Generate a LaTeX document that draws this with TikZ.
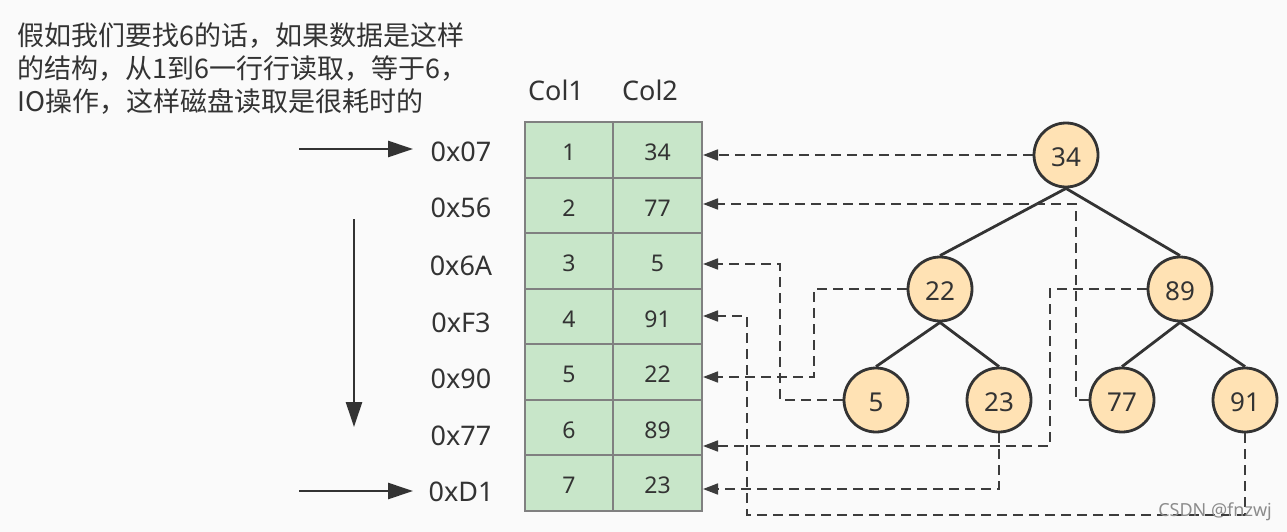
\documentclass[tikz,border=0pt]{standalone}
\usepackage{fontspec}
\setmainfont{Noto Sans}
\newfontfamily\cjk{Noto Sans CJK SC}
\usetikzlibrary{arrows.meta,calc}
\definecolor{bg}{RGB}{250,250,250}
\definecolor{ink}{RGB}{51,51,51}
\definecolor{cellfill}{RGB}{200,230,201}
\definecolor{cellline}{RGB}{128,128,128}
\definecolor{nodefill}{RGB}{255,226,180}
\definecolor{dashc}{RGB}{60,60,60}
\definecolor{wm}{RGB}{140,140,140}
\tikzset{
  cell/.style={draw=cellline, line width=2pt, fill=cellfill, minimum height=55.5pt, inner sep=0pt, text=ink, text height=22pt, text depth=0pt, font=\fontsize{23}{23}\selectfont},
  c1/.style={cell, minimum width=88pt},
  c2/.style={cell, minimum width=89pt},
  tnode/.style={circle, draw=ink, line width=2.8pt, fill=nodefill, minimum size=64pt, inner sep=0pt, text=ink, text height=23pt, text depth=0pt, font=\fontsize{26}{26}\selectfont},
  tedge/.style={draw=ink, line width=2.8pt},
  addr/.style={text=ink, inner sep=0pt, font=\fontsize{27}{27}\selectfont},
  hdr/.style={text=ink, inner sep=0pt, font=\fontsize{27}{27}\selectfont},
  bigarrow/.style={draw=ink, line width=2.6pt, -{Triangle[length=25pt,width=16pt]}},
  darrow/.style={draw=dashc, line width=1.7pt, dash pattern=on 10pt off 6pt, -{Triangle[length=15pt,width=11pt]}},
}
\begin{document}
\begin{tikzpicture}[x=1pt,y=-1pt]
\fill[bg] (0,0) rectangle (1287,532);
\useasboundingbox (0,0) rectangle (1287,532);

% description text
\node[anchor=north west, inner sep=0pt, align=left, text=ink, font=\cjk\fontsize{27}{33}\selectfont] (desc) at (17,22)
  {假如我们要找6的话，如果数据是这样\\的结构，从1到6一行行读取，等于6，\\IO操作，这样磁盘读取是很耗时的};

% headers
\node[hdr] (h1) at (556,90) {Col1};
\node[hdr] (h2) at (650,90) {Col2};

% table
\foreach \i/\a/\b in {1/1/34,2/2/77,3/3/5,4/4/91,5/5/22,6/6/89,7/7/23}{
  \node[c1] (c1r\i) at (569,{122+55.5*(\i-0.5)}) {\a};
  \node[c2] (c2r\i) at (657.5,{122+55.5*(\i-0.5)}) {\b};
}

% addresses
\node[addr] (a1) at (461,152) {0x07};
\node[addr] (a2) at (461,208) {0x56};
\node[addr] (a3) at (461,266) {0x6A};
\node[addr] (a4) at (461,323) {0xF3};
\node[addr] (a5) at (461,379) {0x90};
\node[addr] (a6) at (461,436) {0x77};
\node[addr] (a7) at (461,492) {0xD1};

% left arrows
\coordinate (s1) at (299,149);
\coordinate (e1) at (413,149);
\coordinate (s7) at (299,491);
\coordinate (e7) at (413,491);
\coordinate (vs) at (354,219);
\coordinate (ve) at (354,427);
\draw[bigarrow] (s1) -- (e1);
\draw[bigarrow] (s7) -- (e7);
\draw[bigarrow] (vs) -- (ve);

% tree
\node[tnode] (t34) at (1066,155) {34};
\node[tnode] (t22) at (940,289) {22};
\node[tnode] (t89) at (1180,289) {89};
\node[tnode] (t5) at (876,400) {5};
\node[tnode] (t23) at (999,400) {23};
\node[tnode] (t77) at (1122,400) {77};
\node[tnode] (t91) at (1245,400) {91};
\draw[tedge] (t34.south) -- (t22.north);
\draw[tedge] (t34.south) -- (t89.north);
\draw[tedge] (t22.south) -- (t5.north);
\draw[tedge] (t22.south) -- (t23.north);
\draw[tedge] (t89.south) -- (t77.north);
\draw[tedge] (t89.south) -- (t91.north);

% dashed pointers
\draw[darrow] (t34.west) -- (t34.west -| c2r1.east);

\coordinate (p2a) at (1076,400);
\coordinate (p2b) at (1076,204);
\draw[darrow] (t77.west) -- (p2a) -- (p2b) -- (p2b -| c2r2.east);

\coordinate (p3a) at (780,400);
\coordinate (p3b) at (780,264);
\draw[darrow] (t5.west) -- (p3a) -- (p3b) -- (p3b -| c2r3.east);

\coordinate (p4a) at (1245,515);
\coordinate (p4b) at (747,515);
\coordinate (p4c) at (747,316);
\draw[darrow] (t91.south) -- (p4a) -- (p4b) -- (p4c) -- (p4c -| c2r4.east);

\coordinate (p5a) at (814,289);
\coordinate (p5b) at (814,377);
\draw[darrow] (t22.west) -- (p5a) -- (p5b) -- (p5b -| c2r5.east);

\coordinate (p6a) at (1050,289);
\coordinate (p6b) at (1050,446);
\draw[darrow] (t89.west) -- (p6a) -- (p6b) -- (p6b -| c2r6.east);

\coordinate (p7a) at (999,489);
\draw[darrow] (t23.south) -- (p7a) -- (p7a -| c2r7.east);

% watermark
\node[anchor=east, inner sep=0pt, text=wm, font=\fontsize{18}{18}\selectfont] (wmk) at (1272,512) {CSDN @fnzwj};
\end{tikzpicture}
\end{document}
